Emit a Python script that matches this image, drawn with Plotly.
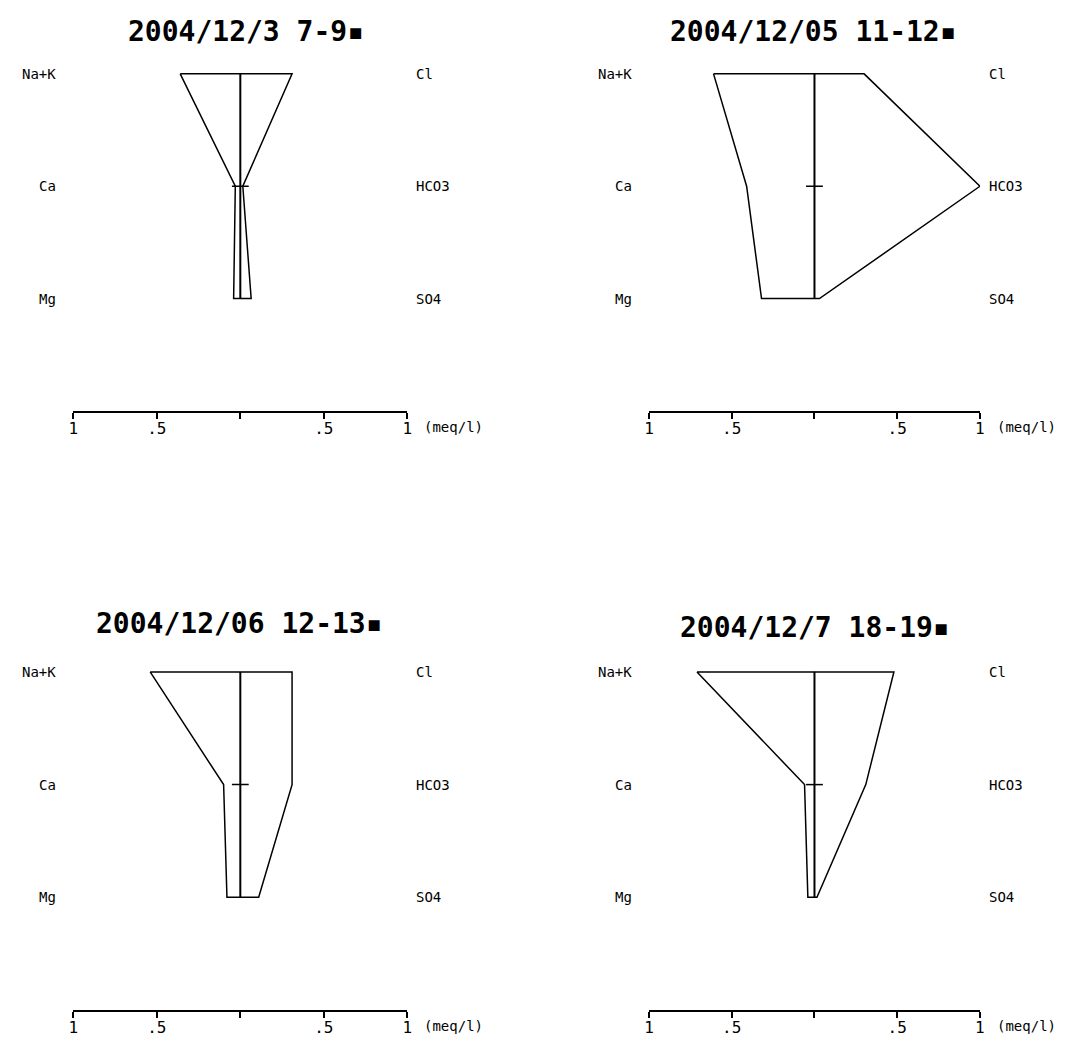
import plotly.graph_objects as go

# Stiff diagrams of four groundwater samples (meq/l)
titles = ["2004/12/3 7-9▪", "2004/12/05 11-12▪", "2004/12/06 12-13▪", "2004/12/7 18-19▪"]
cations = ["Na+K", "Ca", "Mg"]
anions = ["Cl", "HCO3", "SO4"]

cation_values = [
    [0.36, 0.03, 0.04],
    [0.61, 0.41, 0.32],
    [0.54, 0.10, 0.08],
    [0.71, 0.06, 0.04],
]
anion_values = [
    [0.31, 0.015, 0.065],
    [0.30, 1.00, 0.03],
    [0.31, 0.31, 0.11],
    [0.48, 0.31, 0.015],
]

scale_ticks = [-1, -0.5, 0, 0.5, 1]
scale_labels = ["1", ".5", "", ".5", "1"]
unit_label = "(meq/l)"

W, H = 1086, 1039
# pixel boxes of each panel: (left, right, top, bottom)
boxes = [
    (69, 406, 57, 411),
    (650, 984, 57, 411),
    (69, 406, 655, 1010),
    (650, 984, 655, 1010),
]
title_pos = [(243, 32), (816, 32), (237, 623), (818, 627)]

X_RANGE = [-1, 1]
Y_RANGE = [-1, 2.15]


def xdom(v):
    return (v - X_RANGE[0]) / (X_RANGE[1] - X_RANGE[0])


def ydom(v):
    return (v - Y_RANGE[0]) / (Y_RANGE[1] - Y_RANGE[0])


MONO = "DejaVu Sans Mono"
fig = go.Figure()
layout = dict(
    width=W, height=H, margin=dict(l=0, r=0, t=0, b=0),
    paper_bgcolor="white", plot_bgcolor="white", showlegend=False,
    annotations=[],
)

n_rows = len(cations)
row_y = [n_rows - 1 - i for i in range(n_rows)]  # Na+K on top, Mg at bottom

for k in range(4):
    sfx = "" if k == 0 else str(k + 1)
    xr, yr = "x" + sfx, "y" + sfx
    left, right, top, bottom = boxes[k]
    layout["xaxis" + sfx] = dict(
        domain=[left / W, right / W], range=X_RANGE, anchor=yr,
        showline=True, linecolor="black", linewidth=1.5,
        ticks="outside", ticklen=6, tickwidth=1.5, tickcolor="black",
        ticklabelstandoff=-4,
        tickvals=scale_ticks, ticktext=scale_labels,
        tickfont=dict(family=MONO, size=16, color="black"),
        showgrid=False, zeroline=False, fixedrange=True,
    )
    layout["yaxis" + sfx] = dict(
        domain=[(H - bottom) / H, (H - top) / H], range=Y_RANGE, anchor=xr,
        visible=False, fixedrange=True,
    )

    # outline: cations on the left (negative), anions on the right
    cx = [-v for v in cation_values[k]]
    ax = anion_values[k]
    px = [cx[0]] + ax + cx[::-1]
    py = [row_y[0]] + row_y + row_y[::-1]
    fig.add_trace(go.Scatter(x=px, y=py, mode="lines", xaxis=xr, yaxis=yr,
                             line=dict(color="black", width=1.5), hoverinfo="skip"))
    # centre axis with a mark on the middle row
    fig.add_trace(go.Scatter(x=[0, 0], y=[row_y[-1], row_y[0]], mode="lines",
                             xaxis=xr, yaxis=yr, line=dict(color="black", width=2),
                             hoverinfo="skip"))
    fig.add_trace(go.Scatter(x=[0], y=[row_y[1]], mode="markers", xaxis=xr, yaxis=yr,
                             marker=dict(symbol="line-ew", size=12,
                                         line=dict(color="black", width=1.5)),
                             hoverinfo="skip"))

    label_font = dict(family=MONO, size=14, color="black")
    for i in range(n_rows):
        layout["annotations"].append(dict(
            text=cations[i], x=xdom(-1.09), y=ydom(row_y[i]),
            xref=xr + " domain", yref=yr + " domain",
            xanchor="right", yanchor="middle", showarrow=False, font=label_font))
        layout["annotations"].append(dict(
            text=anions[i], x=xdom(1.04), y=ydom(row_y[i]),
            xref=xr + " domain", yref=yr + " domain",
            xanchor="left", yanchor="middle", showarrow=False, font=label_font))
    layout["annotations"].append(dict(
        text=unit_label, x=xdom(1.09), y=0, xref=xr + " domain", yref=yr + " domain",
        yshift=-16, xanchor="left", yanchor="middle", showarrow=False, font=label_font))

    tx, ty = title_pos[k]
    layout["annotations"].append(dict(
        text="<b>" + titles[k] + "</b>", x=tx / W, y=(H - ty) / H,
        xref="paper", yref="paper", xanchor="center", yanchor="middle",
        showarrow=False, font=dict(family=MONO, size=28, color="black")))

fig.update_layout(**layout)
fig.write_html("out.html")
